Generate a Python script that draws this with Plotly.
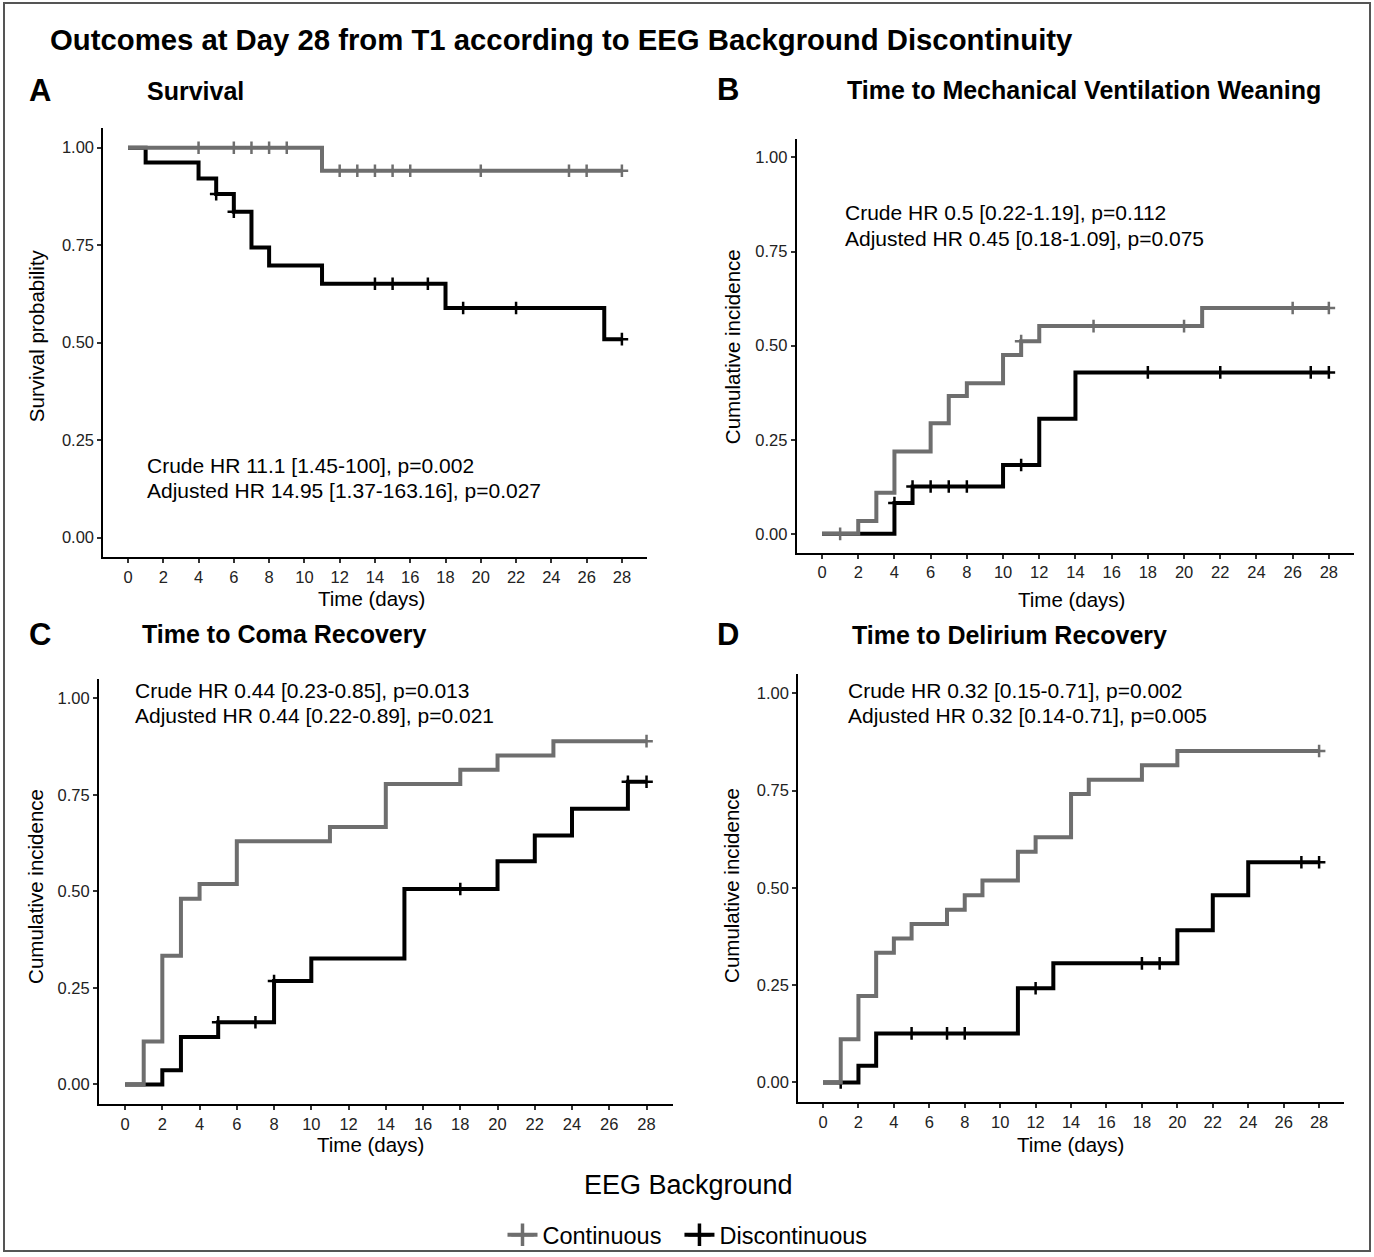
import plotly.graph_objects as go

W, H = 1374, 1257

# ---------------- data ----------------
# Panel A: Survival
a_cont_t = [0, 11, 28]
a_cont_v = [1.0, 0.941, 0.941]
a_cont_cens = [4, 6, 7, 8, 9, 12, 13, 14, 15, 16, 20, 25, 26, 28]
a_disc_t = [0, 1, 4, 5, 6, 7, 8, 11, 18, 27, 28]
a_disc_v = [1.0, 0.962, 0.921, 0.881, 0.836, 0.744, 0.698, 0.651, 0.589, 0.509, 0.509]
a_disc_cens = [5, 6, 14, 15, 17, 19, 22, 28]

# Panel B: Time to mechanical ventilation weaning
b_cont_t = [0, 2, 3, 4, 6, 7, 8, 10, 11, 12, 21, 28]
b_cont_v = [0, 0.034, 0.109, 0.219, 0.294, 0.366, 0.400, 0.475, 0.512, 0.552, 0.600, 0.600]
b_cont_cens = [1, 11, 15, 20, 26, 28]
b_disc_t = [0, 4, 5, 10, 12, 14, 28]
b_disc_v = [0, 0.082, 0.126, 0.183, 0.306, 0.429, 0.429]
b_disc_cens = [4, 5, 6, 7, 8, 11, 18, 22, 27, 28]

# Panel C: Time to coma recovery
c_cont_t = [0, 1, 2, 3, 4, 6, 11, 14, 18, 20, 23, 28]
c_cont_v = [0, 0.111, 0.333, 0.481, 0.519, 0.630, 0.667, 0.778, 0.815, 0.852, 0.889, 0.889]
c_cont_cens = [28]
c_disc_t = [0, 2, 3, 5, 8, 10, 15, 20, 22, 24, 27, 28]
c_disc_v = [0, 0.037, 0.123, 0.161, 0.268, 0.326, 0.506, 0.578, 0.645, 0.714, 0.784, 0.784]
c_disc_cens = [5, 7, 8, 18, 27, 28]

# Panel D: Time to delirium recovery
d_cont_t = [0, 1, 2, 3, 4, 5, 7, 8, 9, 11, 12, 14, 15, 18, 20, 28]
d_cont_v = [0, 0.111, 0.222, 0.333, 0.370, 0.407, 0.444, 0.481, 0.519, 0.593, 0.630,
            0.741, 0.778, 0.815, 0.852, 0.852]
d_cont_cens = [28]
d_disc_t = [0, 2, 3, 11, 13, 20, 22, 24, 28]
d_disc_v = [0, 0.043, 0.126, 0.242, 0.306, 0.391, 0.481, 0.566, 0.566]
d_disc_cens = [1, 5, 7, 8, 12, 18, 19, 27, 28]

x_ticks = list(range(0, 29, 2))
y_ticks = [0, 0.25, 0.5, 0.75, 1.0]

groups = ["Continuous", "Discontinuous"]
colors = {"Continuous": "#6e6e6e", "Discontinuous": "#000000"}

panel_letters = ["A", "B", "C", "D"]
panel_titles = ["Survival", "Time to Mechanical Ventilation Weaning",
                "Time to Coma Recovery", "Time to Delirium Recovery"]
y_titles = ["Survival probability", "Cumulative incidence",
            "Cumulative incidence", "Cumulative incidence"]
hr_text = [
    ["Crude HR 11.1 [1.45-100], p=0.002", "Adjusted HR 14.95 [1.37-163.16], p=0.027"],
    ["Crude HR 0.5 [0.22-1.19], p=0.112", "Adjusted HR 0.45 [0.18-1.09], p=0.075"],
    ["Crude HR 0.44 [0.23-0.85], p=0.013", "Adjusted HR 0.44 [0.22-0.89], p=0.021"],
    ["Crude HR 0.32 [0.15-0.71], p=0.002", "Adjusted HR 0.32 [0.14-0.71], p=0.005"],
]

panels = [
    dict(cont=(a_cont_t, a_cont_v, a_cont_cens), disc=(a_disc_t, a_disc_v, a_disc_cens)),
    dict(cont=(b_cont_t, b_cont_v, b_cont_cens), disc=(b_disc_t, b_disc_v, b_disc_cens)),
    dict(cont=(c_cont_t, c_cont_v, c_cont_cens), disc=(c_disc_t, c_disc_v, c_disc_cens)),
    dict(cont=(d_cont_t, d_cont_v, d_cont_cens), disc=(d_disc_t, d_disc_v, d_disc_cens)),
]

# ---------------- layout geometry (pixels) ----------------
# plot-area boxes: left, right, top, bottom
boxes = [
    (103.3, 646.6, 128.5, 558.5),
    (796.7, 1354.2, 139.0, 554.0),
    (99.0, 672.6, 680.6, 1106.4),
    (798.2, 1343.9, 675.5, 1104.5),
]
letter_pos = [(40, 91), (728, 90), (40, 636), (728, 636)]
title_pos = [(145, 91), (845, 90), (140, 636), (850, 637)]
hr_pos = [(145, 467, 492), (843, 213, 239), (133, 692, 717), (846, 692, 717)]
xtitle_pos = [(371, 600), (1071, 601), (370, 1147), (1070, 1147)]
ytitle_pos = [(36, 337), (732, 348), (36, 889), (732, 888)]

FONT = "Liberation Sans, Arial, Helvetica, sans-serif"


def px(x):
    return x / W


def py(y):
    return 1 - y / H


def step_value(ts, vs, t):
    val = vs[0]
    for ti, vi in zip(ts, vs):
        if ti <= t:
            val = vi
    return val


fig = go.Figure()
layout_axes = {}
annotations = []

for i, p in enumerate(panels):
    k = "" if i == 0 else str(i + 1)
    xa, ya = "x" + k, "y" + k
    for g in ["Discontinuous", "Continuous"]:
        ts, vs, cens = p["cont" if g == "Continuous" else "disc"]
        fig.add_trace(go.Scatter(
            x=ts, y=vs, mode="lines", line=dict(color=colors[g], width=4, shape="hv"),
            xaxis=xa, yaxis=ya, showlegend=False, hoverinfo="skip"))
        fig.add_trace(go.Scatter(
            x=cens, y=[step_value(ts, vs, c) for c in cens], mode="markers",
            marker=dict(symbol="cross-thin", size=9,
                        line=dict(color=colors[g], width=2.5)),
            xaxis=xa, yaxis=ya, showlegend=False, hoverinfo="skip"))

    l, r, t, b = boxes[i]
    axis_common = dict(showgrid=False, zeroline=False, showline=True, linecolor="black",
                       linewidth=2, ticks="outside", ticklen=4, tickwidth=1.5,
                       tickcolor="#333333", tickfont=dict(family=FONT, size=16.5, color="#222222"),
                       automargin=False, fixedrange=True)
    layout_axes["xaxis" + k] = dict(axis_common, domain=[px(l), px(r)], range=[-1.4, 29.4],
                                    tickvals=x_ticks, anchor=ya)
    layout_axes["yaxis" + k] = dict(axis_common, domain=[py(b), py(t)], range=[-0.05, 1.05],
                                    tickvals=y_ticks, tickformat=".2f", anchor=xa)

    lx, ly = letter_pos[i]
    annotations.append(dict(text="<b>%s</b>" % panel_letters[i], x=px(lx), y=py(ly),
                            xref="paper", yref="paper", showarrow=False, xanchor="center",
                            yanchor="middle", font=dict(family=FONT, size=31, color="black")))
    tx, ty = title_pos[i]
    annotations.append(dict(text="<b>%s</b>" % panel_titles[i], x=px(tx), y=py(ty),
                            xref="paper", yref="paper", showarrow=False, xanchor="left",
                            yanchor="middle", font=dict(family=FONT, size=25, color="black")))
    hx, hy1, hy2 = hr_pos[i]
    for txt, hy in zip(hr_text[i], [hy1, hy2]):
        annotations.append(dict(text=txt, x=px(hx), y=py(hy), xref="paper", yref="paper",
                                showarrow=False, xanchor="left", yanchor="middle",
                                font=dict(family=FONT, size=21, color="black")))
    xx, xy = xtitle_pos[i]
    annotations.append(dict(text="Time (days)", x=px(xx), y=py(xy), xref="paper", yref="paper",
                            showarrow=False, xanchor="center", yanchor="middle",
                            font=dict(family=FONT, size=20.5, color="black")))
    yx, yy = ytitle_pos[i]
    annotations.append(dict(text=y_titles[i], x=px(yx), y=py(yy), xref="paper", yref="paper",
                            showarrow=False, xanchor="center", yanchor="middle", textangle=-90,
                            font=dict(family=FONT, size=20.5, color="black")))

# main title
annotations.append(dict(text="<b>Outcomes at Day 28 from T1 according to EEG Background Discontinuity</b>",
                        x=px(48), y=py(40), xref="paper", yref="paper", showarrow=False,
                        xanchor="left", yanchor="middle",
                        font=dict(family=FONT, size=29.3, color="black")))
# legend title
annotations.append(dict(text="EEG Background", x=px(688), y=py(1188), xref="paper", yref="paper",
                        showarrow=False, xanchor="center", yanchor="middle",
                        font=dict(family=FONT, size=27, color="black")))

# legend entries
for rank, g in enumerate(groups):
    fig.add_trace(go.Scatter(
        x=[None], y=[None], mode="lines+markers", name=g + "  ", legendrank=rank + 1,
        line=dict(color=colors[g], width=4),
        marker=dict(symbol="cross-thin", size=16, line=dict(color=colors[g], width=3.5))))

fig.update_layout(
    width=W, height=H,
    margin=dict(l=0, r=0, t=0, b=0),
    paper_bgcolor="white", plot_bgcolor="white",
    annotations=annotations,
    showlegend=True,
    legend=dict(orientation="h", x=px(694), xanchor="center", y=py(1238), yanchor="middle",
                font=dict(family=FONT, size=23.5, color="black"), itemwidth=30,
                bgcolor="rgba(0,0,0,0)"),
    shapes=[dict(type="rect", xref="paper", yref="paper", x0=px(4), x1=px(1370),
                 y0=py(1254), y1=py(3), line=dict(color="#555555", width=2))],
    **layout_axes,
)

fig.write_html("out.html", config={"displayModeBar": False},
               post_script="document.body.style.margin='0px';document.body.style.padding='0px';")
